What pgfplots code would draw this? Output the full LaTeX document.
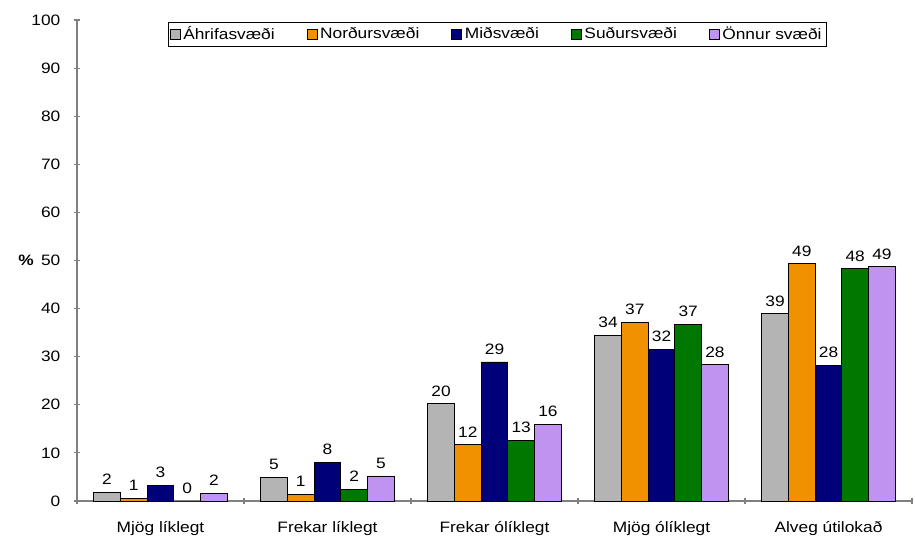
\documentclass[border=0pt]{standalone}
\usepackage{pgfplots}
\usepackage{pgfplotstable}
\pgfplotsset{compat=1.18}
\usepackage{fontspec}
\setmainfont{Liberation Sans}[FakeStretch=1.15]
\definecolor{cgray}{HTML}{B4B4B4}
\definecolor{corange}{HTML}{F29100}
\definecolor{cnavy}{HTML}{000078}
\definecolor{cgreen}{HTML}{007800}
\definecolor{cpurple}{HTML}{C093F0}
\pgfplotstableread{
x a b c d e
0 1.8 0.6 3.2 0 1.6
1 4.9 1.4 8.1 2.4 5.2
2 20.2 11.7 28.9 12.6 16.0
3 34.4 37.1 31.5 36.7 28.3
4 38.9 49.3 28.2 48.3 48.7
}\data
\newcommand{\fs}{\fontsize{11.3}{13}\selectfont}
\tikzset{
 shbar/.style={draw=black, line width=0.6pt, fill=#1},
}
\begin{document}
\begin{tikzpicture}
\begin{axis}[
 scale only axis,
 width=626.25pt, height=360.75pt,
 ybar=0pt, bar width=0.16,
 xmin=-0.5, xmax=4.5,
 ymin=0, ymax=100,
 ytick={0,10,...,100},
 xtick={0,1,2,3,4},
 xticklabels={Mjög líklegt, Frekar líklegt, Frekar ólíklegt, Mjög ólíklegt, Alveg útilokað},
 minor xtick={-0.5,0.5,1.5,2.5,3.5,4.5},
 major x tick style={draw=none},
 minor tick length=5pt,
 major tick length=5pt,
 tick align=outside,
 axis x line=bottom, axis y line=left,
 axis line style={-, draw=gray, line width=0.8pt},
 tick style={draw=gray, line width=0.8pt},
 /pgf/number format/assume math mode=true,
 ticklabel style={font=\fs},
 yticklabel style={xshift=-6.5pt},
 xticklabel style={yshift=-9pt},
 ylabel={\textbf{\%}},
 every axis y label/.style={at={(axis description cs:-0.061,0.5)}, anchor=center, font=\fs},
 nodes near coords={\pgfmathprintnumber[fixed,precision=0]{\pgfplotspointmeta}},
 nodes near coords style={font=\fs, /pgf/number format/assume math mode=true, yshift=2pt},
 legend style={at={(0.503,0.996)}, anchor=north, legend columns=5, draw=black, font=\fs,
   /tikz/every even column/.append style={column sep=22pt}, inner sep=1.5pt},
 legend image code/.code={\draw[#1] (0pt,-3.75pt) rectangle (7.5pt,3.75pt);},
 clip=false,
]
\addplot[shbar=cgray] table[x=x,y=a]{\data};
\addplot[shbar=corange] table[x=x,y=b]{\data};
\addplot[shbar=cnavy] table[x=x,y=c]{\data};
\addplot[shbar=cgreen] table[x=x,y=d]{\data};
\addplot[shbar=cpurple] table[x=x,y=e]{\data};
\legend{Áhrifasvæði, Norðursvæði, Miðsvæði, Suðursvæði, Önnur svæði}
\end{axis}
\pgfresetboundingbox
\path[use as bounding box] ([xshift=-57.75pt,yshift=-26.25pt]current axis.south west) rectangle ([xshift=2.25pt,yshift=15pt]current axis.north east);
\end{tikzpicture}
\end{document}
